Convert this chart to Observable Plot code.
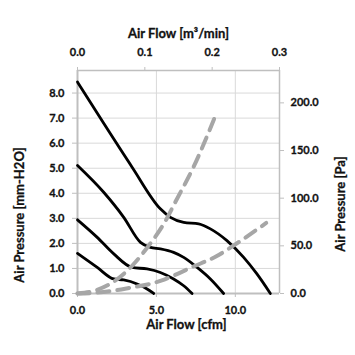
<!DOCTYPE html>
<html><head><meta charset="utf-8">
<script src="https://cdn.jsdelivr.net/npm/d3@7"></script>
<script src="https://cdn.jsdelivr.net/npm/@observablehq/plot@0.6"></script>
<style>body{margin:0;background:#fff} #chart svg{font-family:Lato,sans-serif} #chart svg text{stroke:#111;stroke-width:0.3px}</style>
</head><body><div id="chart"></div>
<script>
// Fan P-Q curves: x in cfm, y in mm-H2O
const curve1Cfm = [0, 1.66, 3.46, 5.25, 5.89, 6.73, 7.68, 8.42, 9.47, 10.53, 11.37, 12.22];
const curve1Mm  = [8.44, 6.79, 5.04, 3.38, 3.04, 2.84, 2.78, 2.58, 2.11, 1.44, 0.78, 0];
const curve2Cfm = [0, 1.66, 2.93, 3.99, 4.62, 5.25, 6.09, 6.73, 7.58, 8.42, 9.26];
const curve2Mm  = [5.11, 4.04, 3.04, 2.04, 1.84, 1.78, 1.64, 1.44, 1.04, 0.58, 0];
const curve3Cfm = [0, 1.25, 2.30, 3.46, 4.41, 5.25, 6.09, 6.73, 7.26];
const curve3Mm  = [2.94, 2.24, 1.58, 1.04, 0.98, 0.84, 0.58, 0.31, 0];
const curve4Cfm = [0, 1.25, 2.30, 2.93, 3.78, 4.41, 4.83];
const curve4Mm  = [1.60, 1.04, 0.58, 0.54, 0.38, 0.18, 0];
// System impedance curves: x in cfm, y in Pa (right axis)
const imp1Cfm = [0, 1.2, 2.3, 3.4, 4.41, 5.57, 6.2, 7.36, 8.8];
const imp1Pa  = [0, 3.5, 12.5, 28, 48, 76, 96, 133, 189];
const imp2Cfm = [0, 0.8, 2.3, 3.1, 5.3, 6.06, 7.3, 8.8, 9.95, 11.96];
const imp2Pa  = [0, 0.4, 3.0, 5.3, 13.5, 18.6, 28, 39, 51, 74];
// Tick labels
const mmTicks = [0, 1, 2, 3, 4, 5, 6, 7, 8];
const paTicks = [0, 50, 100, 150, 200];
const cfmTicks = [0, 5, 10];
const m3Ticks = [0, 0.1, 0.2, 0.3];

const xMax = 12.8, yMax = 8.9;
const paToMm = 7.608 / 200;      // right axis mapped onto left scale
const m3ToCfm = xMax / 0.3;      // top axis mapped onto bottom scale

const fans = [];
[[curve1Cfm, curve1Mm], [curve2Cfm, curve2Mm], [curve3Cfm, curve3Mm], [curve4Cfm, curve4Mm]]
  .forEach(([xs, ys], i) => xs.forEach((x, j) => fans.push({s: "fan" + i, x, y: ys[j]})));
const imps = [];
[[imp1Cfm, imp1Pa], [imp2Cfm, imp2Pa]]
  .forEach(([xs, ys], i) => xs.forEach((x, j) => imps.push({s: "imp" + i, x, y: ys[j] * paToMm})));

const axisStroke = "#bfbfbf";
const chart = Plot.plot({
  width: 355, height: 355,
  marginLeft: 77, marginRight: 76, marginTop: 70, marginBottom: 62,
  x: {domain: [0, xMax]},
  y: {domain: [0, yMax]},
  style: {fontFamily: "Lato, sans-serif", fontWeight: "bold", fontSize: "11px", color: "#111", background: "#fff"},
  marks: [
    Plot.ruleY(mmTicks.filter(d => d > 0), {stroke: "#d9d9d9", strokeWidth: 1}),
    Plot.ruleX(cfmTicks.filter(d => d > 0), {stroke: "#d9d9d9", strokeWidth: 1}),
    Plot.ruleX([xMax], {stroke: axisStroke, strokeWidth: 1.5}),
    Plot.ruleY([yMax], {stroke: axisStroke, strokeWidth: 1.5}),
    Plot.ruleX([0], {stroke: axisStroke, strokeWidth: 2}),
    Plot.ruleY([0], {stroke: axisStroke, strokeWidth: 2}),
    Plot.axisY(mmTicks, {anchor: "left", tickFormat: d => d.toFixed(1), tickSize: 5, tickPadding: 8, stroke: axisStroke, label: null}),
    Plot.axisY(paTicks.map(p => p * paToMm), {anchor: "right", tickFormat: d => (d / paToMm).toFixed(1), tickSize: 4, tickPadding: 7, stroke: axisStroke, label: null}),
    Plot.axisX(cfmTicks, {anchor: "bottom", tickFormat: d => d.toFixed(1), tickSize: 4, tickPadding: 9, stroke: axisStroke, label: null}),
    Plot.axisX(m3Ticks.map(m => m * m3ToCfm), {anchor: "top", tickFormat: d => (d / m3ToCfm).toFixed(1), tickSize: 4, tickPadding: 11, stroke: axisStroke, label: null}),
    Plot.line(fans, {x: "x", y: "y", z: "s", stroke: "#000", strokeWidth: 2.8, curve: "monotone-x"}),
    Plot.line(imps, {x: "x", y: "y", z: "s", stroke: "#a6a6a6", strokeWidth: 4, strokeDasharray: "12,8", curve: "monotone-x"}),
    Plot.text(["Air Flow [m³/min]"], {frameAnchor: "top", textAnchor: "middle", lineAnchor: "middle", dy: -37, fontSize: 13, fontWeight: "bold"}),
    Plot.text(["Air Flow [cfm]"], {frameAnchor: "bottom", textAnchor: "middle", lineAnchor: "middle", dx: 8, dy: 31, fontSize: 13, fontWeight: "bold"}),
    Plot.text(["Air Pressure [mm-H2O]"], {frameAnchor: "left", textAnchor: "middle", lineAnchor: "middle", rotate: -90, dx: -58, dy: 33, fontSize: 13, fontWeight: "bold"}),
    Plot.text(["Air Pressure [Pa]"], {frameAnchor: "right", textAnchor: "middle", lineAnchor: "middle", rotate: -90, dx: 61, dy: 22, fontSize: 13, fontWeight: "bold"})
  ]
});
document.getElementById("chart").appendChild(chart);
</script></body></html>
